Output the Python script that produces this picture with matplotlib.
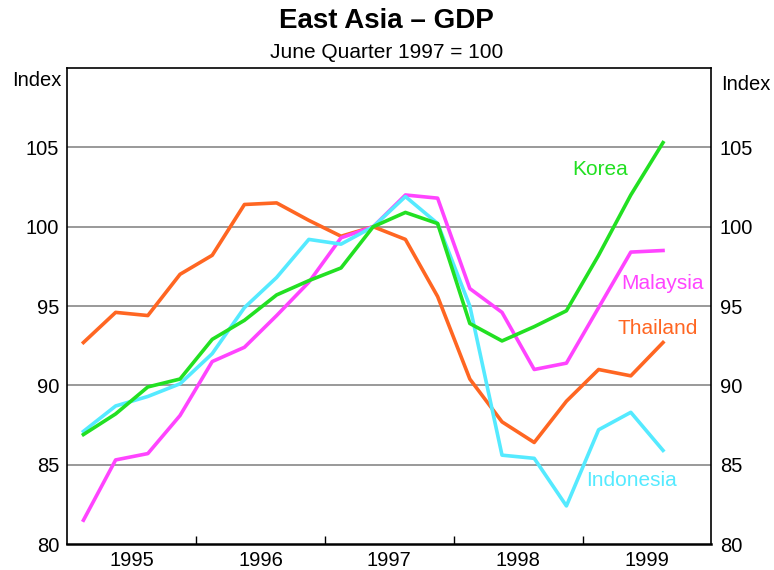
import numpy as np
import matplotlib.pyplot as plt

plt.rcParams['font.family'] = ['Liberation Sans', 'DejaVu Sans']

# Quarterly data, March 1995 to September 1999 (index, June quarter 1997 = 100)
quarters = 1995.125 + 0.25 * np.arange(19)

korea = [86.9, 88.2, 89.9, 90.4, 92.9, 94.1, 95.7, 96.6, 97.4, 100.0,
         100.9, 100.2, 93.9, 92.8, 93.7, 94.7, 98.2, 102.0, 105.3]
indonesia = [87.1, 88.7, 89.3, 90.1, 92.0, 94.9, 96.8, 99.2, 98.9, 100.0,
             101.9, 100.2, 95.0, 85.6, 85.4, 82.4, 87.2, 88.3, 85.9]
malaysia = [81.5, 85.3, 85.7, 88.1, 91.5, 92.4, 94.4, 96.5, 99.3, 100.0,
            102.0, 101.8, 96.1, 94.6, 91.0, 91.4, 94.9, 98.4, 98.5]
thailand = [92.7, 94.6, 94.4, 97.0, 98.2, 101.4, 101.5, 100.4, 99.4, 100.0,
            99.2, 95.6, 90.4, 87.7, 86.4, 89.0, 91.0, 90.6, 92.7]

years = [1995, 1996, 1997, 1998, 1999]
yticks = [80, 85, 90, 95, 100, 105]

c_korea = '#22e022'
c_indo = '#55eaff'
c_malay = '#ff44ff'
c_thai = '#ff6622'

fig = plt.figure(figsize=(7.74, 5.70), dpi=100)
ax = fig.add_axes([0.087, 0.0456, 0.832, 0.835])

ax.plot(quarters, thailand, color=c_thai, lw=2.6)
ax.plot(quarters, malaysia, color=c_malay, lw=2.6)
ax.plot(quarters, indonesia, color=c_indo, lw=2.6)
ax.plot(quarters, korea, color=c_korea, lw=2.6)

ax.set_xlim(1995, 2000)
ax.set_ylim(80, 110)

# gridlines
for y in yticks[1:]:
    ax.axhline(y, color='#888888', lw=1.2, zorder=0)

ax.set_yticks(yticks)
ax.tick_params(axis='y', length=0, labelsize=14.5, pad=6,
               labelleft=True, labelright=True)

# year boundaries as ticks, labels at mid-year
ax.set_xticks([1996, 1997, 1998, 1999])
ax.set_xticklabels([])
ax.tick_params(axis='x', direction='in', length=6, width=1)
ax.set_xticks([y + 0.5 for y in years], minor=True)
ax.set_xticklabels([str(y) for y in years], minor=True)
ax.tick_params(axis='x', which='minor', length=0, labelsize=14.5, pad=5)

for s in ax.spines.values():
    s.set_linewidth(1.2)
ax.spines['bottom'].set_linewidth(1.8)

# series labels
ax.text(1999.14, 103.6, 'Korea', color=c_korea, fontsize=15, ha='center', va='center')
ax.text(1999.62, 96.45, 'Malaysia', color=c_malay, fontsize=15, ha='center', va='center')
ax.text(1999.58, 93.6, 'Thailand', color=c_thai, fontsize=15, ha='center', va='center')
ax.text(1999.38, 84.0, 'Indonesia', color=c_indo, fontsize=15, ha='center', va='center')

fig.text(0.4996, 0.963, 'East Asia \u2013 GDP', fontsize=20, fontweight='bold',
         ha='center', va='center')
fig.text(0.4996, 0.908, 'June Quarter 1997 = 100', fontsize=15, ha='center', va='center')
fig.text(0.048, 0.858, 'Index', fontsize=14.5, ha='center', va='center')
fig.text(0.963, 0.852, 'Index', fontsize=14.5, ha='center', va='center')

fig.savefig('out.png', dpi=100)
